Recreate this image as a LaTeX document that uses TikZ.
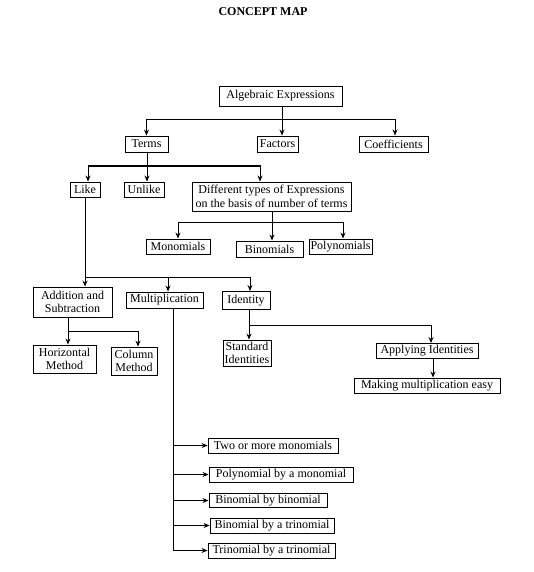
\documentclass[tikz,border=0pt]{standalone}
\usepackage{fontspec}
\setmainfont{Liberation Serif}
\usetikzlibrary{arrows.meta}
\tikzset{
  box/.style={draw, line width=0.9pt, inner sep=0pt, align=center,
    font=\fontsize{12}{13.5}\selectfont},
  line/.style={line width=1pt},
  arr/.style={line width=1pt, -{Stealth[length=6pt,width=5pt]}},
}
\newcommand{\bx}[5]{\node[box, minimum width=#3pt, minimum height=#4pt] (#1) at (#2) {#5};}
\begin{document}
\begin{tikzpicture}[x=1pt,y=-1pt]
\useasboundingbox (0,0) rectangle (533,572);
\node[font=\fontsize{12}{14}\selectfont\bfseries] (title) at (263,12) {CONCEPT MAP};
\bx{alg}{280.5,96}{123}{20}{Algebraic Expressions}
\bx{terms}{146.5,144}{43}{16}{Terms}
\bx{factors}{277.5,144}{41}{16}{Factors}
\bx{coef}{393.5,144}{69}{16}{Coefficients}
\bx{like}{85,189.5}{30}{15}{Like}
\bx{unlike}{144,189.5}{40}{15}{Unlike}
\bx{diff}{271.5,196.5}{159}{29}{Different types of Expressions\\on the basis of number of terms}
\bx{mono}{178,246.5}{64}{15}{Monomials}
\bx{bino}{269.5,249}{67}{16}{Binomials}
\bx{poly}{340.5,246.5}{63}{15}{Polynomials}
\bx{add}{72.5,302}{79}{30}{Addition and\\Subtraction}
\bx{mult}{164.5,300}{77}{16}{Multiplication}
\bx{ident}{246,300.5}{48}{18}{Identity}
\bx{horiz}{64.5,359}{63}{28}{Horizontal\\Method}
\bx{column}{134,361}{46}{28}{Column\\Method}
\bx{standard}{247,353}{48}{26}{Standard\\Identities}
\bx{applying}{427,351}{102}{15}{Applying Identities}
\bx{making}{427,385.5}{146}{15}{Making multiplication easy}
\bx{m1}{273,445.5}{130}{15}{Two or more monomials}
\bx{m2}{281,474.5}{144}{15}{Polynomial by a monomial}
\bx{m3}{268,500.5}{118}{14}{Binomial by binomial}
\bx{m4}{272,525.5}{124}{15}{Binomial by a trinomial}
\bx{m5}{271.5,550.5}{127}{15}{Trinomial by a trinomial}

\coordinate (j1) at (282,120);
\draw[line] (alg.south -| j1) -- (j1);
\draw[line] (j1) -- (147,120) (j1) -- (395,120);
\draw[arr] (j1) -| (terms.north);
\draw[arr] (j1) -- (j1 |- factors.north);
\draw[arr] (j1) -| ([xshift=1.5pt]coef.north);

\coordinate (j2) at (147,166);
\draw[line] (terms.south -| j2) -- (j2);
\draw[arr] (j2) -| ([xshift=3pt]like.north);
\draw[arr] (j2) -- (j2 |- unlike.north);
\draw[arr] (j2) -| ([xshift=-11.5pt]diff.north);

\coordinate (j3) at (272,222);
\draw[line] (diff.south -| j3) -- (j3);
\draw[arr] (j3) -| (mono.north);
\draw[arr] (j3) -- (j3 |- bino.north);
\draw[arr] (j3) -| ([xshift=2.5pt]poly.north);

\coordinate (j4) at (85,277);
\draw[line] (like.south) -- (j4);
\draw[arr] (j4) -- (j4 |- add.north);
\draw[arr] (j4) -| ([xshift=3.5pt]mult.north);
\draw[arr] (j4) -| ([xshift=4pt]ident.north);

\coordinate (j5) at (68,331);
\draw[line] (add.south -| j5) -- (j5);
\draw[arr] (j5) -- (j5 |- horiz.north);
\draw[arr] (j5) -| ([xshift=4pt]column.north);

\coordinate (j6) at (249,325);
\draw[line] (ident.south -| j6) -- (j6);
\draw[arr] (j6) -- (j6 |- standard.north);
\draw[arr] (j6) -| ([xshift=4pt]applying.north);
\draw[arr] ([xshift=6pt]applying.south) -- ([xshift=6pt]making.north);

\coordinate (j7) at (173,551);
\draw[line] (mult.south -| j7) -- (j7);
\foreach \m in {m1,m2,m3,m4,m5}
  \draw[arr] (j7 |- \m.west) -- (\m.west);
\end{tikzpicture}
\end{document}
